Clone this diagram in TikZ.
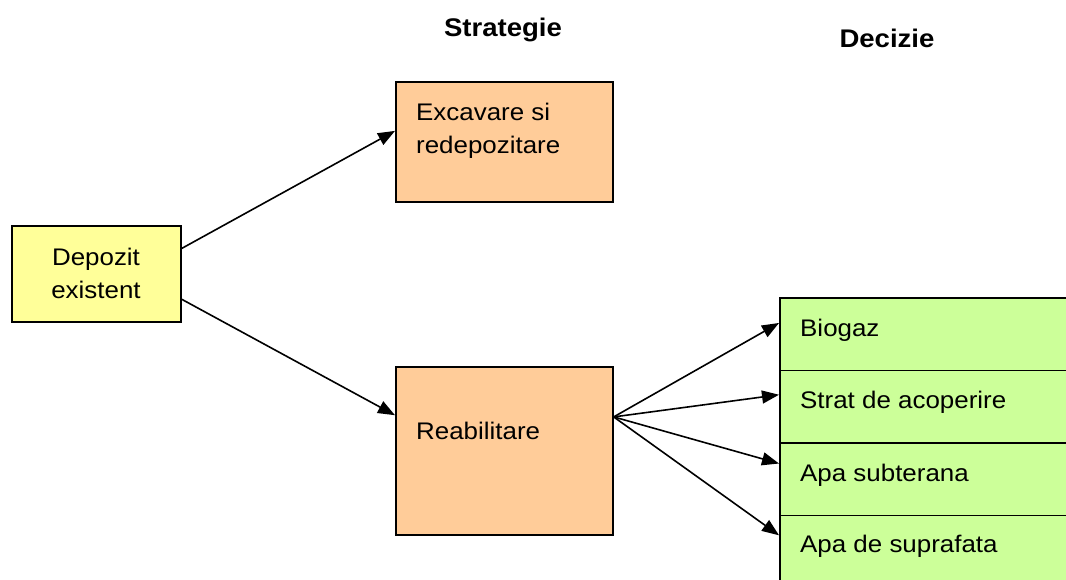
\documentclass[tikz,border=0pt]{standalone}
\usepackage{fontspec}
\setmainfont{Liberation Sans}[FakeStretch=1.08]
\usetikzlibrary{arrows.meta,calc}
\definecolor{boxyellow}{HTML}{FFFF99}
\definecolor{boxorange}{HTML}{FFCC99}
\definecolor{boxgreen}{HTML}{CCFF99}
\tikzset{
  x=1pt,y=-1pt,
  box/.style={draw=black,line width=1.7pt,inner sep=0pt,anchor=north west},
  txt/.style={inner sep=0pt,anchor=base west,font=\fontsize{24}{33}\selectfont},
  head/.style={inner sep=0pt,anchor=base,font=\fontsize{25.5}{30}\selectfont\bfseries},
  arr/.style={line width=1.6pt,-{Triangle[length=17pt,width=13pt]}},
}
\begin{document}
\begin{tikzpicture}
\useasboundingbox (0,0) rectangle (1066,579);
\clip (0,0) rectangle (1066,579);
% headers
\node[head] (hstrat) at (503,36) {Strategie};
\node[head] (hdec) at (887,47) {Decizie};
% boxes
\node[box,fill=boxyellow,minimum width=169pt,minimum height=96pt] (dep) at (11,225) {};
\node[inner sep=0pt,align=center,font=\fontsize{24}{33}\selectfont,anchor=base] (deptxt) at (96,298) {Depozit\\existent};
\node[box,fill=boxorange,minimum width=217pt,minimum height=120pt] (exc) at (395,81) {};
\node[txt,align=left] (exctxt) at (416,153) {Excavare si\\redepozitare};
\node[box,fill=boxorange,minimum width=217pt,minimum height=168pt] (rea) at (395,366) {};
\node[txt] (reatxt) at (416,439) {Reabilitare};
% green cells
\node[box,fill=boxgreen,minimum width=300pt,minimum height=72.5pt] (c1) at (779,297) {};
\node[box,fill=boxgreen,minimum width=300pt,minimum height=72.5pt] (c2) at (779,369.5) {};
\node[box,fill=boxgreen,minimum width=300pt,minimum height=72.5pt] (c3) at (779,442) {};
\node[box,fill=boxgreen,minimum width=300pt,minimum height=72.5pt] (c4) at (779,514.5) {};
\node[txt] (t1) at (800,336) {Biogaz};
\node[txt] (t2) at (800,408) {Strat de acoperire};
\node[txt] (t3) at (800,481) {Apa subterana};
\node[txt] (t4) at (800,552) {Apa de suprafata};
% connectors
\draw[arr] ($(dep.north east)!0.24!(dep.south east)$) -- ($(exc.north west)!0.41!(exc.south west)$);
\draw[arr] ($(dep.north east)!0.76!(dep.south east)$) -- ($(rea.north west)!0.29!(rea.south west)$);
\coordinate (rout) at ($(rea.north east)!0.30!(rea.south east)$);
\draw[arr] (rout) -- ($(c1.north west)!0.35!(c1.south west)$);
\draw[arr] (rout) -- ($(c2.north west)!0.34!(c2.south west)$);
\draw[arr] (rout) -- ($(c3.north west)!0.29!(c3.south west)$);
\draw[arr] (rout) -- ($(c4.north west)!0.28!(c4.south west)$);
\end{tikzpicture}
\end{document}
